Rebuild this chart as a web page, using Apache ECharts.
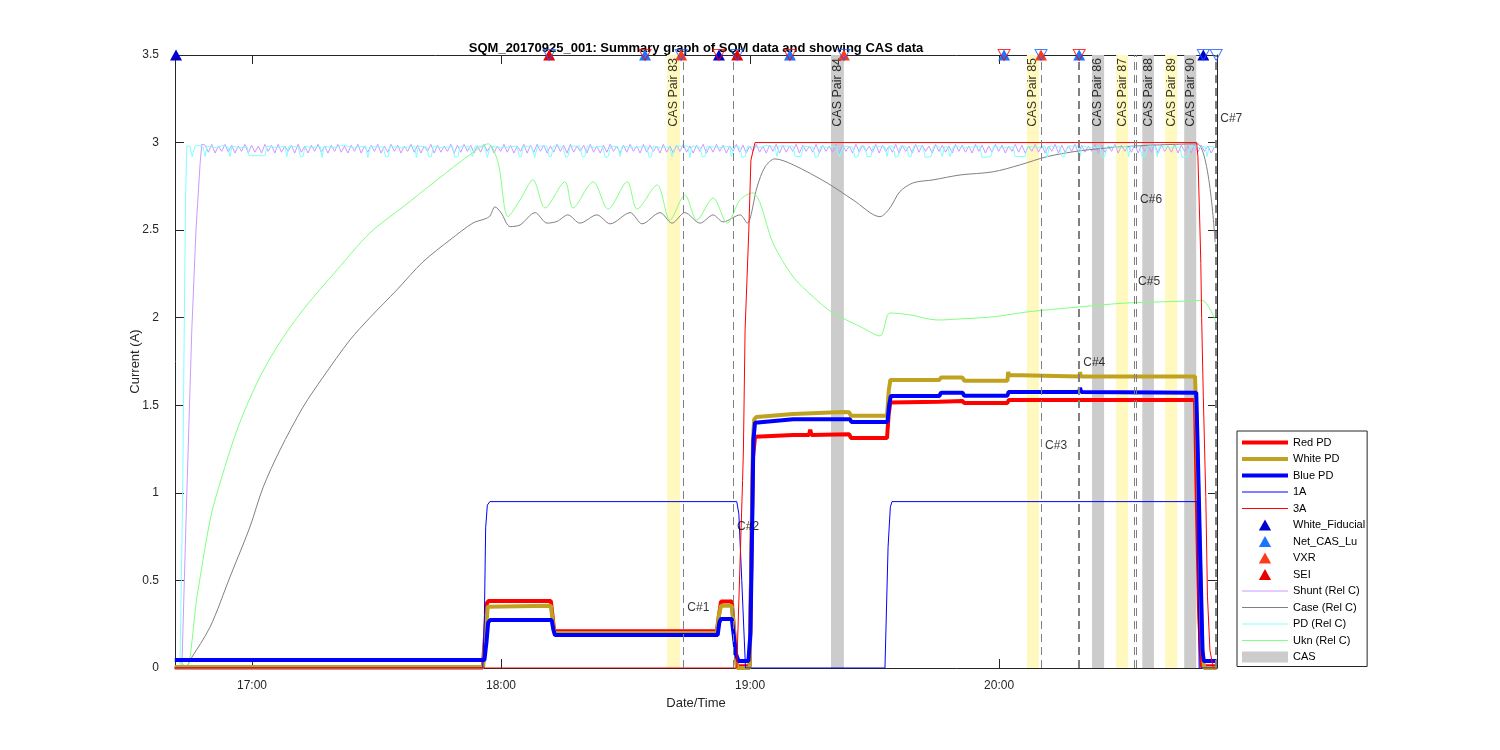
<!DOCTYPE html>
<html><head><meta charset="utf-8">
<script src="https://cdn.jsdelivr.net/npm/echarts@6/dist/echarts.min.js"></script>
<style>html,body{margin:0;padding:0;background:#fff}#c{width:1500px;height:750px}</style>
</head><body><div id="c"></div>
<script>
const FONT = "'Liberation Sans', Arial, Helvetica, sans-serif";
const titleText = 'SQM_20170925_001: Summary graph of SQM data and showing CAS data';
const xName = 'Date/Time';
const yName = 'Current (A)';
// time in minutes since midnight
const xMin = 1001.45, xMax = 1252.5;
const xTickValues = [1020, 1080, 1140, 1200];
const xTickLabels = ['17:00', '18:00', '19:00', '20:00'];
const yMin = 0, yMax = 3.5, yStep = 0.5;

const redPD = [[1001.4,0.003],[1075.6,0.003],[1076.2,0.2],[1076.6,0.37],[1077.0,0.383],[1092.0,0.383],[1092.4,0.3],[1092.8,0.21],[1132.0,0.21],[1132.5,0.3],[1133.0,0.38],[1135.6,0.38],[1136.2,0.2],[1136.8,0.01],[1139.9,0.01],[1140.3,0.6],[1140.7,1.2],[1141.2,1.32],[1150.4,1.33],[1154.2,1.33],[1154.5,1.36],[1154.8,1.33],[1163.9,1.335],[1164.3,1.313],[1173.0,1.313],[1173.4,1.45],[1173.8,1.516],[1185.6,1.52],[1186.0,1.525],[1191.2,1.525],[1191.6,1.513],[1202.0,1.513],[1202.3,1.53],[1247.2,1.53],[1247.6,1.0],[1248.2,0.3],[1248.8,0.01],[1252.4,0.01]];
const whitePD = [[1001.4,0.005],[1075.7,0.005],[1076.3,0.2],[1076.8,0.35],[1077.2,0.355],[1092.0,0.355],[1092.4,0.28],[1092.8,0.2],[1132.0,0.2],[1132.5,0.3],[1133.0,0.355],[1135.6,0.355],[1136.2,0.2],[1136.9,0.0],[1139.9,0.0],[1140.3,0.6],[1140.7,1.3],[1141.0,1.42],[1141.5,1.433],[1150.4,1.45],[1162.4,1.462],[1163.9,1.46],[1164.3,1.44],[1173.0,1.44],[1173.4,1.58],[1173.8,1.645],[1185.6,1.645],[1186.0,1.658],[1191.2,1.658],[1191.6,1.64],[1202.0,1.64],[1202.2,1.69],[1202.4,1.673],[1219.3,1.665],[1219.5,1.69],[1219.7,1.665],[1247.2,1.665],[1247.6,1.4],[1248.0,1.0],[1248.5,0.5],[1249.0,0.1],[1249.4,0.0],[1252.4,0.0]];
const bluePD = [[1001.4,0.045],[1076.0,0.045],[1076.5,0.15],[1076.9,0.26],[1077.4,0.274],[1092.2,0.274],[1092.6,0.22],[1093.0,0.188],[1132.2,0.188],[1132.6,0.26],[1133.0,0.28],[1135.6,0.28],[1136.0,0.2],[1136.6,0.08],[1137.2,0.04],[1139.6,0.04],[1140.1,0.2],[1140.5,0.8],[1140.8,1.3],[1141.2,1.4],[1150.4,1.42],[1162.4,1.42],[1164.1,1.42],[1164.4,1.405],[1173.1,1.405],[1173.5,1.5],[1173.9,1.553],[1185.6,1.553],[1186.0,1.572],[1191.2,1.572],[1191.6,1.555],[1202.0,1.555],[1202.3,1.576],[1219.3,1.576],[1219.5,1.6],[1219.8,1.576],[1247.5,1.572],[1247.8,1.3],[1248.2,0.9],[1248.5,0.6],[1248.8,0.3],[1249.0,0.1],[1249.3,0.04],[1252.4,0.04]];
const oneA = [[1001.4,0],[1075.6,0],[1076.0,0.3],[1076.3,0.8],[1076.7,0.93],[1077.3,0.95],[1136.8,0.95],[1137.3,0.88],[1138.0,0.5],[1138.9,0],[1172.5,0],[1173.25,0.69],[1173.8,0.92],[1174.2,0.95],[1247.7,0.95],[1248.2,0],[1252.4,0]];
const threeA = [[1001.4,0],[1136.8,0],[1138.2,1.07],[1138.4,1.245],[1138.8,1.93],[1139.7,2.5],[1140.2,2.9],[1141.2,3.0],[1247.6,3.0],[1247.9,2.92],[1248.4,2.5],[1248.6,2.31],[1248.8,2.0],[1249.2,1.55],[1249.8,0.98],[1250.2,0.41],[1250.8,0.1],[1251.6,0],[1252.4,0]];

const caseRel = [[1001.4,0],[1003.9,0],[1005.1,0.046],[1009.9,0.234],[1014.7,0.52],[1019.5,0.805],[1022.65,1.03],[1026.75,1.245],[1032.3,1.49],[1037.1,1.66],[1043.6,1.873],[1048.4,2.0],[1054.9,2.159],[1061.2,2.319],[1067.7,2.444],[1073.25,2.541],[1076.1,2.564],[1077.3,2.58],[1078.55,2.633],[1080.0,2.6],[1082.2,2.52],[1084.6,2.53],[1088.2,2.6],[1091.1,2.54],[1093.5,2.55],[1096.1,2.587],[1099.0,2.54],[1103.1,2.587],[1106.3,2.536],[1111.1,2.6],[1114.0,2.536],[1118.3,2.6],[1121.2,2.54],[1124.3,2.6],[1127.95,2.54],[1131.1,2.587],[1133.5,2.547],[1137.6,2.587],[1139.3,2.54],[1141.7,2.747],[1143.6,2.861],[1146.0,2.907],[1150.4,2.873],[1158.55,2.77],[1164.8,2.673],[1171.3,2.577],[1173.7,2.627],[1176.1,2.72],[1179.3,2.77],[1184.1,2.787],[1190.6,2.815],[1198.55,2.833],[1205.1,2.873],[1211.6,2.92],[1219.5,2.953],[1229.2,2.975],[1238.8,2.987],[1247.7,2.993],[1252.05,2.43]];
const uknRel = [[1001.4,0.05],[1003.5,0.02],[1004.3,0],[1006.75,0.405],[1009.9,0.845],[1011.8,1.017],[1016.4,1.36],[1021.2,1.628],[1026.0,1.833],[1032.3,2.045],[1040.5,2.273],[1048.4,2.484],[1056.4,2.633],[1064.6,2.787],[1072.5,2.93],[1076.9,2.993],[1079.3,2.884],[1081.7,2.577],[1084.6,2.673],[1087.7,2.787],[1090.6,2.627],[1095.4,2.776],[1097.35,2.627],[1102.2,2.776],[1105.8,2.62],[1110.4,2.776],[1112.8,2.62],[1117.6,2.758],[1120.7,2.558],[1124.3,2.701],[1127.2,2.558],[1131.1,2.684],[1134.5,2.54],[1137.6,2.673],[1140.7,2.713],[1142.4,2.656],[1145.5,2.427],[1150.4,2.233],[1155.2,2.119],[1160.0,2.027],[1166.5,1.95],[1171.3,1.896],[1173.7,2.027],[1178.55,2.016],[1185.1,1.987],[1190.6,1.993],[1198.55,2.005],[1206.75,2.033],[1219.5,2.062],[1230.8,2.084],[1246.75,2.096],[1248.9,2.1],[1252.4,1.97]];
const pdRel = [[1001.4,0],[1002.65,0],[1003.3,1.0],[1003.7,2.0],[1004.0,2.7],[1004.3,2.98],[1005.0,2.98],[1005.6,2.92],[1006.3,2.98],[1007.0,2.985],[1008.2,2.975],[1008.7,2.92],[1009.2,2.98],[1011.5,2.97],[1013.0,2.985],[1014.2,2.975],[1014.7,2.92],[1015.2,2.98],[1017,2.97],[1018.8,2.975],[1019.3,2.925],[1023.1,2.925],[1023.6,2.98],[1026,2.97],[1027.9,2.98],[1028.4,2.92],[1028.9,2.98],[1031.1,2.975],[1031.7,2.92],[1032.3,2.92],[1032.8,2.98],[1034.5,2.97],[1036.4,2.98],[1036.9,2.915],[1037.4,2.98],[1039.5,2.97],[1042,2.985],[1044.5,2.97],[1047.4,2.98],[1047.9,2.915],[1048.6,2.98],[1050,2.975],[1051.6,2.975],[1052.2,2.92],[1052.8,2.92],[1053.3,2.98],[1056,2.97],[1059.2,2.98],[1059.6,2.915],[1060.1,2.98],[1062.1,2.975],[1062.6,2.92],[1063.2,2.92],[1063.7,2.98],[1066,2.97],[1068.3,2.98],[1068.9,2.915],[1069.6,2.92],[1070.2,2.98],[1072.4,2.975],[1073.1,2.92],[1073.8,2.98],[1076.0,2.98],[1076.7,2.915],[1077.4,2.98],[1080,2.97],[1083.8,2.98],[1084.4,2.92],[1084.9,2.92],[1085.4,2.98],[1087.4,2.975],[1088.1,2.915],[1088.8,2.98],[1091.0,2.98],[1091.6,2.92],[1092.1,2.92],[1092.6,2.98],[1094.9,2.975],[1095.6,2.915],[1096.1,2.92],[1096.7,2.98],[1098.9,2.98],[1099.6,2.92],[1100.2,2.92],[1100.8,2.98],[1102.5,2.97],[1104.5,2.98],[1105.1,2.915],[1105.8,2.92],[1106.4,2.98],[1108.2,2.975],[1108.7,2.92],[1109.2,2.98],[1112,2.97],[1115.1,2.98],[1115.7,2.915],[1116.2,2.92],[1116.7,2.98],[1118.5,2.97],[1120.6,2.975],[1121.2,2.92],[1122.0,2.98],[1125.0,2.98],[1125.5,2.915],[1126.0,2.98],[1127.9,2.975],[1128.5,2.92],[1129.1,2.92],[1129.7,2.98],[1132.5,2.97],[1135.1,2.98],[1135.5,2.92],[1136.0,2.98],[1137.5,2.975],[1138.1,2.915],[1138.8,2.92],[1139.4,2.98],[1142,2.97],[1144,2.985],[1146.0,2.975],[1146.5,2.92],[1147.0,2.98],[1150.3,2.98],[1150.9,2.92],[1152.3,2.92],[1152.9,2.98],[1155.1,2.975],[1155.7,2.915],[1156.4,2.92],[1157.0,2.98],[1159,2.97],[1160.9,2.98],[1161.5,2.92],[1162.5,2.98],[1164.7,2.975],[1165.3,2.915],[1166.0,2.92],[1166.6,2.98],[1167.6,2.98],[1168.2,2.92],[1169.1,2.92],[1169.7,2.98],[1172.5,2.975],[1173.0,2.92],[1173.5,2.98],[1174.4,2.98],[1175.0,2.915],[1175.6,2.92],[1176.2,2.98],[1177.7,2.975],[1178.3,2.92],[1178.8,2.92],[1179.4,2.98],[1181.6,2.98],[1182.2,2.915],[1183.6,2.92],[1184.2,2.98],[1185.7,2.975],[1186.3,2.92],[1186.9,2.975],[1187.6,2.975],[1188.2,2.92],[1189.0,2.98],[1192,2.97],[1195.3,2.98],[1195.9,2.915],[1198.0,2.92],[1198.7,2.98],[1201,2.97],[1203.3,2.975],[1203.9,2.92],[1206.2,2.92],[1206.9,2.98],[1209,2.97],[1211.1,2.98],[1211.6,2.915],[1212.1,2.98],[1214.6,2.975],[1215.2,2.92],[1215.8,2.92],[1216.5,2.98],[1219.0,2.98],[1219.5,2.92],[1220.0,2.98],[1222,2.97],[1224.3,2.975],[1224.9,2.915],[1225.4,2.92],[1226.1,2.98],[1228.5,2.97],[1230.8,2.98],[1231.2,2.92],[1231.7,2.98],[1233.9,2.975],[1234.5,2.915],[1235.1,2.92],[1235.8,2.98],[1237.6,2.98],[1238.1,2.92],[1238.6,2.98],[1241,2.97],[1243.5,2.975],[1244.1,2.915],[1245.4,2.92],[1246.1,2.98],[1248,2.97],[1249.6,2.98],[1250.1,2.92],[1250.6,2.98],[1252.4,2.97]];
const shuntRise = [[1001.4,0],[1003.1,0],[1004.3,1.0],[1005.5,1.93],[1006.5,2.5],[1007.5,2.88],[1007.9,2.99]];
// regularly sampled shunt readings after the rise
const shuntStart = 1008.7, shuntStep = 0.8;
const shuntVals = [
2.985,2.945,2.99,2.94,2.98,2.95,2.99,2.945,2.985,2.94,2.98,2.95,2.99,2.94,2.985,2.945,2.98,2.94,2.99,2.95,
2.985,2.94,2.99,2.945,2.98,2.95,2.985,2.94,2.99,2.945,2.98,2.94,2.985,2.95,2.99,2.945,2.98,2.94,2.985,2.95,
2.99,2.945,2.98,2.94,2.985,2.95,2.99,2.94,2.98,2.945,2.985,2.95,2.99,2.94,2.98,2.945,2.99,2.95,2.985,2.94,
2.98,2.95,2.99,2.945,2.985,2.94,2.98,2.95,2.99,2.94,2.985,2.945,2.98,2.95,2.99,2.94,2.985,2.945,2.99,2.95,
2.985,2.94,2.98,2.945,2.99,2.95,2.985,2.94,2.98,2.95,2.99,2.945,2.985,2.94,2.98,2.95,2.99,2.94,2.985,2.945,
2.99,2.95,2.985,2.94,2.98,2.945,2.99,2.95,2.985,2.94,2.99,2.945,2.98,2.95,2.985,2.94,2.99,2.945,2.98,2.94,
2.985,2.945,2.99,2.95,2.98,2.94,2.985,2.945,2.99,2.95,2.98,2.94,2.99,2.945,2.985,2.95,2.98,2.94,2.99,2.945,
2.98,2.94,2.985,2.95,2.99,2.945,2.98,2.94,2.985,2.95,2.99,2.94,2.98,2.945,2.99,2.95,2.985,2.94,2.98,2.95,
2.99,2.945,2.985,2.94,2.98,2.95,2.99,2.945,2.98,2.94,2.985,2.95,2.99,2.94,2.985,2.945,2.98,2.95,2.99,2.94,
2.985,2.95,2.98,2.945,2.99,2.94,2.985,2.95,2.98,2.945,2.99,2.94,2.985,2.95,2.98,2.94,2.99,2.945,2.985,2.95,
2.98,2.945,2.99,2.94,2.985,2.95,2.98,2.945,2.99,2.94,2.985,2.95,2.98,2.94,2.99,2.945,2.985,2.95,2.98,2.94,
2.99,2.95,2.985,2.945,2.98,2.94,2.99,2.95,2.985,2.945,2.98,2.94,2.99,2.95,2.985,2.94,2.98,2.945,2.99,2.95,
2.985,2.94,2.98,2.95,2.99,2.945,2.985,2.94,2.98,2.95,2.99,2.945,2.985,2.94,2.98,2.95,2.99,2.94,2.985,2.945,
2.98,2.95,2.99,2.94,2.985,2.945,2.98,2.95,2.99,2.94,2.985,2.945,2.98,2.95,2.99,2.94,2.985,2.95,2.98,2.945,
2.99,2.94,2.985,2.95,2.98,2.945,2.99,2.94,2.985,2.95,2.98,2.945,2.99,2.94,2.985,2.95,2.98,2.94,2.99,2.945,
2.985,2.95,2.98,2.94,2.975];

// event markers at the top (time of each event)
const markerLevel = 3.5;
const whiteFiducialT = [1001.7, 1132.5, 1249.2];
const netCasLuT = [1114.7, 1149.6, 1201.2, 1219.3];
const vxrT = [1123.4, 1162.6, 1210.1];
const seiT = [1091.6, 1136.9];
const endRedT = [1114.7, 1132.5, 1149.6, 1201.2, 1219.3];
const endBlueT = [1091.6, 1123.4, 1136.9, 1162.6, 1210.1, 1249.2, 1252.3];

// CAS windows
const casNames = ['CAS Pair 83','CAS Pair 84','CAS Pair 85','CAS Pair 86','CAS Pair 87','CAS Pair 88','CAS Pair 89','CAS Pair 90'];
const casStart = [1120.0, 1159.5, 1206.7, 1222.4, 1228.2, 1234.5, 1240.0, 1244.6];
const casEnd   = [1123.1, 1162.6, 1209.6, 1225.3, 1231.1, 1237.3, 1242.9, 1247.5];
const casKind  = [0, 1, 0, 1, 0, 1, 0, 1];

// C# events
const cNames = ['C#1','C#2','C#3','C#4','C#5','C#6','C#7'];
const cTimes = [1123.9, 1135.9, 1210.1, 1219.3, 1232.5, 1233.0, 1252.3];
const cLabelY = [0.343, 0.805, 1.268, 1.742, 2.204, 2.673, 3.135];

const legendNames = ['Red PD','White PD','Blue PD','1A','3A','White_Fiducial','Net_CAS_Lu','VXR','SEI','Shunt (Rel C)','Case (Rel C)','PD (Rel C)','Ukn (Rel C)','CAS'];

// ---------------- build ----------------
const shunt = shuntRise.concat(shuntVals.map((v, i) => [shuntStart + i * shuntStep, v]));
const fmtTime = v => { const h = Math.floor(v / 60), m = Math.round(v - h * 60); return h + ':' + (m < 10 ? '0' : '') + m; };
const AX = '#262626';
const casColors = ['#FFF9BF', '#CCCCCC'];
function lineS(name, data, color, width, smooth) {
  return { type: 'line', name, data, color, symbol: 'none', showSymbol: false, lineStyle: { color, width },
    smooth: smooth || false, silent: true, animation: false, clip: true };
}
function triS(name, times, color) {
  return { type: 'scatter', name, data: times.map(t => [t, markerLevel]), symbol: 'triangle', symbolSize: [12, 11],
    color, itemStyle: { color, opacity: 1 }, clip: false, silent: true, z: 8 };
}
function downS(name, times, color) {
  return { type: 'scatter', name, data: times.map(t => [t, markerLevel]), symbol: 'triangle', symbolRotate: 180,
    symbolSize: [12, 11], itemStyle: { color: 'rgba(0,0,0,0)', borderColor: color, borderWidth: 1 }, clip: false, silent: true, z: 9 };
}
const thickIcon = 'path://M0,0H47V4H0Z';
const thinIcon = 'path://M0,0H47V1H0Z';
const triIcon = 'path://M5,0L10,9L0,9Z';
const rectIcon = 'path://M0,0H47V11H0Z';
const iconFor = { 'Red PD': thickIcon, 'White PD': thickIcon, 'Blue PD': thickIcon, '1A': thinIcon, '3A': thinIcon,
  'White_Fiducial': triIcon, 'Net_CAS_Lu': triIcon, 'VXR': triIcon, 'SEI': triIcon,
  'Shunt (Rel C)': thinIcon, 'Case (Rel C)': thinIcon, 'PD (Rel C)': thinIcon, 'Ukn (Rel C)': thinIcon, 'CAS': rectIcon };

const option = {
  animation: false,
  textStyle: { fontFamily: FONT },
  title: { text: titleText, left: 696, top: 42, padding: 0, textAlign: 'center',
    textStyle: { fontFamily: FONT, fontSize: 13, fontWeight: 'bold', color: '#000' } },
  grid: { left: 175, top: 55, width: 1042, height: 613, containLabel: false },
  legend: {
    orient: 'vertical', left: 1237, top: 431, padding: [6, 2, 4, 5], itemGap: 5.5, itemWidth: 46, itemHeight: 11,
    borderColor: AX, borderWidth: 1, backgroundColor: '#fff', selectedMode: false,
    itemStyle: { borderWidth: 0 },
    textStyle: { fontSize: 11, fontFamily: FONT, color: '#000' },
    data: legendNames.map(n => ({ name: n, icon: iconFor[n] }))
  },
  xAxis: [
    { type: 'value', min: xMin, max: xMax, position: 'bottom',
      name: xName, nameLocation: 'middle', nameGap: 29, nameMoveOverlap: false,
      nameTextStyle: { fontSize: 13, color: AX, fontFamily: FONT },
      axisLine: { show: true, onZero: false, lineStyle: { color: AX, width: 1 } },
      axisTick: { show: true, inside: true, length: 9, customValues: xTickValues, lineStyle: { color: AX } },
      axisLabel: { show: true, customValues: xTickValues, margin: 12, fontSize: 12, color: AX, fontFamily: FONT,
        formatter: v => { const i = xTickValues.indexOf(v); return i >= 0 ? xTickLabels[i] : fmtTime(v); } },
      splitLine: { show: false } },
    { type: 'value', min: xMin, max: xMax, position: 'top',
      axisLine: { show: true, onZero: false, lineStyle: { color: AX, width: 1 } },
      axisTick: { show: true, inside: true, length: 9, customValues: xTickValues, lineStyle: { color: AX } },
      axisLabel: { show: false }, splitLine: { show: false } }
  ],
  yAxis: [
    { type: 'value', min: yMin, max: yMax, interval: yStep, position: 'left',
      name: yName, nameLocation: 'middle', nameGap: 33, nameRotate: 90, nameMoveOverlap: false,
      nameTextStyle: { fontSize: 13, color: AX, fontFamily: FONT },
      axisLine: { show: true, onZero: false, lineStyle: { color: AX, width: 1 } },
      axisTick: { show: true, inside: true, length: 9, lineStyle: { color: AX } },
      axisLabel: { show: true, margin: 16, fontSize: 12, color: AX, fontFamily: FONT },
      splitLine: { show: false } },
    { type: 'value', min: yMin, max: yMax, interval: yStep, position: 'right',
      axisLine: { show: true, onZero: false, lineStyle: { color: AX, width: 1 } },
      axisTick: { show: true, inside: true, length: 9, lineStyle: { color: AX } },
      axisLabel: { show: false }, splitLine: { show: false } }
  ],
  series: [
    { type: 'custom', name: 'CAS', silent: true, itemStyle: { color: '#CCCCCC' }, color: '#CCCCCC', clip: true, z: 1,
      data: casStart.map((s, i) => [s, casEnd[i], casKind[i]]),
      encode: { x: [0, 1] },
      renderItem: (params, api) => {
        const p0 = api.coord([api.value(0), yMax]);
        const p1 = api.coord([api.value(1), yMin]);
        return { type: 'rect', shape: { x: p0[0], y: p0[1], width: p1[0] - p0[0], height: p1[1] - p0[1] },
          style: { fill: casColors[api.value(2)] } };
      } },
    lineS('Shunt (Rel C)', shunt, '#CC99FF', 1),
    lineS('Case (Rel C)', caseRel, '#808080', 1, 0.3),
    lineS('PD (Rel C)', pdRel, '#80FFFF', 1),
    lineS('Ukn (Rel C)', uknRel, '#80FF80', 1, 0.3),
    lineS('Red PD', redPD, '#FF0000', 4),
    lineS('White PD', whitePD, '#BFA320', 4),
    lineS('Blue PD', bluePD, '#0000FF', 4),
    lineS('1A', oneA, '#0000FF', 1),
    lineS('3A', threeA, '#FF0000', 1),
    { type: 'scatter', name: 'cEvents', silent: true, z: 4,
      data: cTimes.map((t, i) => [t, cLabelY[i], cNames[i]]),
      symbolSize: 0.1, itemStyle: { color: 'rgba(0,0,0,0)' }, clip: false,
      label: { show: true, position: 'right', distance: 4, formatter: p => p.data[2], fontSize: 12, color: '#000', fontFamily: FONT },
      markLine: { silent: true, symbol: ['none', 'none'], animation: false, label: { show: false },
        lineStyle: { color: '#808080', type: [8, 5], width: 1 },
        data: cTimes.map((t, i) => ({ xAxis: t, lineStyle: { width: (i === 3 || i === 6) ? 2 : 1 } })) } },
    { type: 'scatter', name: 'casLabels', silent: true, z: 4,
      data: casStart.map((s, i) => [(s + casEnd[i]) / 2, yMax, casNames[i]]),
      symbolSize: 0.1, itemStyle: { color: 'rgba(0,0,0,0)' }, clip: false,
      label: { show: true, position: [0, 3], rotate: 90, align: 'right', verticalAlign: 'middle',
        formatter: p => p.data[2], fontSize: 12.5, color: '#000', fontFamily: FONT } },
    triS('White_Fiducial', whiteFiducialT, '#0000CC'),
    triS('Net_CAS_Lu', netCasLuT, '#1A75FF'),
    triS('VXR', vxrT, '#FF3A1A'),
    triS('SEI', seiT, '#E60000'),
    downS('endRed', endRedT, '#FF0000'),
    downS('endBlue', endBlueT, '#1A5CFF')
  ]
};
const chart = echarts.init(document.getElementById('c'));
chart.setOption(option);
</script></body></html>
